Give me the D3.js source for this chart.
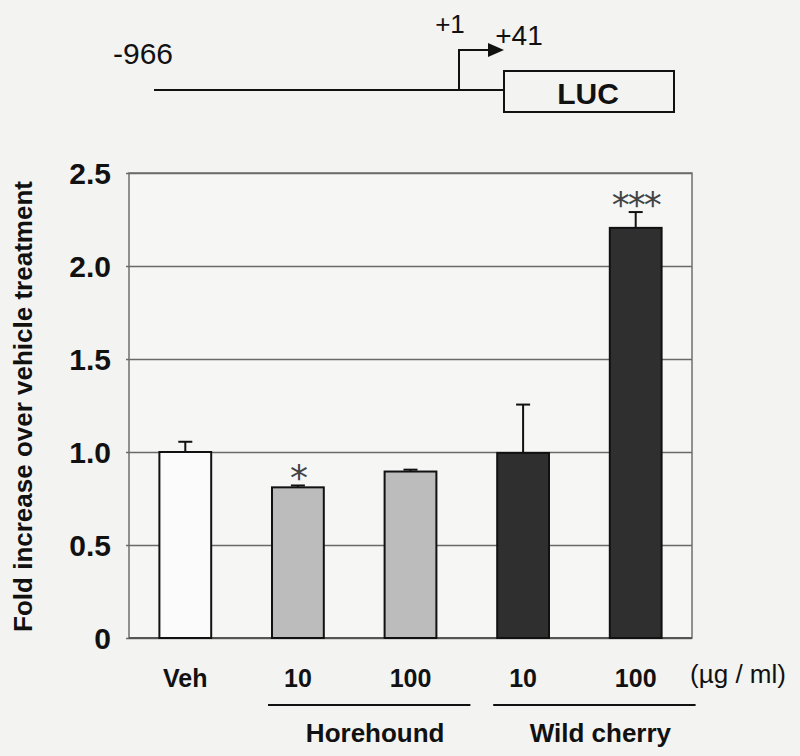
<!DOCTYPE html>
<html>
    <head>
        <!-- D3.js v7 -->
        <script src="https://d3js.org/d3.v7.min.js"></script>
        <style>
            body { margin: 0; background: #f3f3f1; }
            svg { display: block; font-family: "Liberation Sans", Arial, sans-serif; }
        </style>
    </head>
    <body>
        <svg width="800" height="756"></svg>

        <script>
            // data
            const barKeys = ["veh", "h10", "h100", "w10", "w100"];
            const barLabels = ["Veh", "10", "100", "10", "100"];
            const barGroups = ["vehicle", "Horehound", "Horehound", "Wild cherry", "Wild cherry"];
            const foldValues = [1.0, 0.81, 0.895, 0.995, 2.205];
            const errValues = [0.055, 0.01, 0.01, 0.26, 0.085];
            const signif = ["", "*", "", "", "***"];
            const yTicks = [0, 0.5, 1.0, 1.5, 2.0, 2.5];
            const groupNames = ["Horehound", "Wild cherry"];

            const svg = d3.select("svg");

            // plot frame
            const plotL = 129, plotR = 692, plotT = 173, plotB = 638;

            const x = d3.scaleBand()
                .domain(barKeys)
                .range([plotL, plotR])
                .paddingInner(0.54)
                .paddingOuter(0.27);

            const y = d3.scaleLinear()
                .domain([0, 2.5])
                .range([plotB, plotT]);

            const color = d3.scaleOrdinal()
                .domain(["vehicle", "Horehound", "Wild cherry"])
                .range(["#fbfbfb", "#bcbcbc", "#2f2f2f"]);

            // --- promoter construct sketch on top ---
            const sketch = svg.append("g");
            sketch.append("line")
                .attr("x1", 154).attr("x2", 504)
                .attr("y1", 90).attr("y2", 90)
                .attr("stroke", "#111").attr("stroke-width", 2);
            sketch.append("path")
                .attr("d", "M459,90 V50 H490")
                .attr("fill", "none")
                .attr("stroke", "#111").attr("stroke-width", 2);
            sketch.append("path")
                .attr("d", "M488,43 L504,50 L488,57 Z")
                .attr("fill", "#111");
            sketch.append("rect")
                .attr("x", 504).attr("y", 71)
                .attr("width", 170).attr("height", 41)
                .attr("fill", "none")
                .attr("stroke", "#111").attr("stroke-width", 2);
            sketch.append("text")
                .attr("x", 588).attr("y", 104)
                .attr("text-anchor", "middle")
                .attr("font-size", 30).attr("font-weight", "bold")
                .attr("fill", "#111")
                .text("LUC");
            sketch.append("text")
                .attr("x", 143).attr("y", 64)
                .attr("text-anchor", "middle")
                .attr("font-size", 30).attr("fill", "#111")
                .text("-966");
            sketch.append("text")
                .attr("x", 450).attr("y", 33)
                .attr("text-anchor", "middle")
                .attr("font-size", 26).attr("fill", "#111")
                .text("+1");
            sketch.append("text")
                .attr("x", 519).attr("y", 45)
                .attr("text-anchor", "middle")
                .attr("font-size", 28).attr("fill", "#111")
                .text("+41");

            // --- chart ---
            // plot background + frame
            svg.append("rect")
                .attr("x", plotL).attr("y", plotT)
                .attr("width", plotR - plotL).attr("height", plotB - plotT)
                .attr("fill", "#f6f6f5")
                .attr("stroke", "#6f6f6f").attr("stroke-width", 1.5);

            // gridlines and tick labels
            const yAxis = svg.append("g")
                .attr("transform", `translate(${plotL},0)`)
                .call(d3.axisLeft(y)
                    .tickValues(yTicks)
                    .tickSize(-(plotR - plotL))
                    .tickFormat(d => d === 0 ? "0" : d3.format(".1f")(d)));
            yAxis.select(".domain").remove();
            yAxis.selectAll(".tick line")
                .attr("stroke", "#6a6a6a").attr("stroke-width", 1.6)
                .attr("x1", -3);
            yAxis.selectAll(".tick text")
                .attr("x", -18)
                .attr("dy", "0.36em")
                .attr("font-family", "Liberation Sans, Arial, sans-serif")
                .attr("font-size", 30).attr("font-weight", "bold")
                .attr("fill", "#111");

            // bottom axis line
            svg.append("line")
                .attr("x1", plotL).attr("x2", plotR)
                .attr("y1", plotB).attr("y2", plotB)
                .attr("stroke", "#555").attr("stroke-width", 2);

            // y axis title
            svg.append("text")
                .attr("transform", `translate(32,${(plotT + plotB) / 2 + 1}) rotate(-90)`)
                .attr("text-anchor", "middle")
                .attr("font-size", 26).attr("font-weight", "bold")
                .attr("fill", "#111")
                .text("Fold increase over vehicle treatment");

            const rows = barKeys.map((k, i) => ({
                key: k, label: barLabels[i], group: barGroups[i],
                value: foldValues[i], err: errValues[i], star: signif[i]
            }));

            // error bars (upper only)
            const errG = svg.append("g")
                .attr("stroke", "#111").attr("stroke-width", 2);
            errG.selectAll("line.stem")
                .data(rows)
                .join("line")
                .attr("class", "stem")
                .attr("x1", d => x(d.key) + x.bandwidth() / 2)
                .attr("x2", d => x(d.key) + x.bandwidth() / 2)
                .attr("y1", d => y(d.value))
                .attr("y2", d => y(d.value + d.err));
            errG.selectAll("line.cap")
                .data(rows)
                .join("line")
                .attr("class", "cap")
                .attr("x1", d => x(d.key) + x.bandwidth() / 2 - 7)
                .attr("x2", d => x(d.key) + x.bandwidth() / 2 + 7)
                .attr("y1", d => y(d.value + d.err))
                .attr("y2", d => y(d.value + d.err));

            // bars
            svg.append("g")
                .selectAll("rect")
                .data(rows)
                .join("rect")
                .attr("x", d => x(d.key))
                .attr("y", d => y(d.value))
                .attr("width", x.bandwidth())
                .attr("height", d => y(0) - y(d.value))
                .attr("fill", d => color(d.group))
                .attr("stroke", "#111")
                .attr("stroke-width", 2);

            // significance asterisks
            svg.append("g")
                .selectAll("text")
                .data(rows.filter(d => d.star))
                .join("text")
                .attr("x", d => x(d.key) + x.bandwidth() / 2)
                .attr("y", d => y(d.value + d.err) + 5)
                .attr("text-anchor", "middle")
                .attr("font-family", "DejaVu Sans, sans-serif")
                .attr("font-size", 36)
                .attr("letter-spacing", -2)
                .attr("fill", "#444")
                .text(d => d.star);

            // category labels
            svg.append("g")
                .selectAll("text")
                .data(rows)
                .join("text")
                .attr("x", d => x(d.key) + x.bandwidth() / 2)
                .attr("y", 687)
                .attr("text-anchor", "middle")
                .attr("font-size", 25).attr("font-weight", "bold")
                .attr("fill", "#111")
                .text(d => d.label);

            svg.append("text")
                .attr("x", 738).attr("y", 683)
                .attr("text-anchor", "middle")
                .attr("font-size", 26)
                .attr("fill", "#111")
                .text("(\u00b5g / ml)");

            // group brackets: line + name
            groupNames.forEach(name => {
                const keys = rows.filter(d => d.group === name).map(d => d.key);
                const x0 = x(keys[0]) - 4;
                const x1 = x(keys[keys.length - 1]) + x.bandwidth() + 34;
                svg.append("line")
                    .attr("x1", x0).attr("x2", x1)
                    .attr("y1", 705).attr("y2", 705)
                    .attr("stroke", "#111").attr("stroke-width", 2);
                svg.append("text")
                    .attr("x", (x0 + x1) / 2 + 6)
                    .attr("y", 742)
                    .attr("text-anchor", "middle")
                    .attr("font-size", 26).attr("font-weight", "bold")
                    .attr("fill", "#111")
                    .text(name);
            });
        </script>
    </body>
</html>
